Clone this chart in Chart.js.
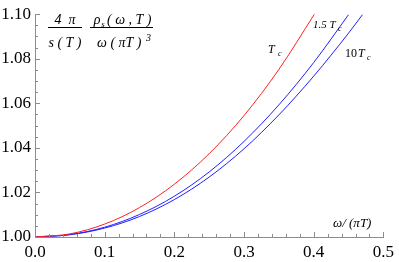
<!DOCTYPE html>
<html>
<head>
<meta charset="utf-8">
<script src="https://cdn.jsdelivr.net/npm/chart.js@4.4.0/dist/chart.umd.min.js"></script>
<style>
  html, body { margin: 0; padding: 0; background: #fff; }
  #wrap { width: 399px; height: 262px; }
</style>
</head>
<body>
<div id="wrap"><canvas id="myChart" width="399" height="262"></canvas></div>
<script>
// omega/(pi T) values
const xVals = [0, 0.05, 0.1, 0.15, 0.2, 0.25, 0.3, 0.35, 0.401];
const xVals15 = [0, 0.05, 0.1, 0.15, 0.2, 0.25, 0.3, 0.35, 0.4, 0.45];
const xVals10 = [0, 0.05, 0.1, 0.15, 0.2, 0.25, 0.3, 0.35, 0.4, 0.45, 0.47];
// curves
const tcVals = [1.0, 1.0014, 1.0058, 1.0132, 1.0237, 1.0374, 1.0545, 1.0752, 1.1000];
const tc15Vals = [1.0, 1.0011, 1.0044, 1.0101, 1.0183, 1.0292, 1.0429, 1.0593, 1.0783, 1.0998];
const tc10Vals = [1.0, 1.0010, 1.0040, 1.0092, 1.0168, 1.0269, 1.0396, 1.0548, 1.0722, 1.0915, 1.0998];
const xTicks = [0, 0.1, 0.2, 0.3, 0.4, 0.5];
const yTicks = [1.0, 1.02, 1.04, 1.06, 1.08, 1.10];

const serif = "'Liberation Serif', 'DejaVu Serif', serif";
const axisColor = '#8c8c8c';

function pts(xs, ys) {
  return xs.map((x, i) => ({ x: x, y: ys[i] }));
}

// tick marks drawn inward, Mathematica style, plus the labels in the plot
const decorations = {
  id: 'decorations',
  afterDraw(chart) {
    const ctx = chart.ctx;
    const xs = chart.scales.x, ys = chart.scales.y;
    const area = chart.chartArea;
    ctx.save();
    ctx.strokeStyle = axisColor;
    ctx.lineWidth = 1;
    ctx.beginPath();
    for (let i = 0; i <= 25; i++) {
      const v = i * 0.02;
      const px = Math.round(xs.getPixelForValue(v)) + 0.5;
      const len = (i % 5 === 0) ? 5 : 3;
      ctx.moveTo(px, area.bottom);
      ctx.lineTo(px, area.bottom - len);
    }
    for (let i = 0; i <= 20; i++) {
      const v = 1 + i * 0.005;
      const py = Math.round(ys.getPixelForValue(v)) + 0.5;
      const len = (i % 4 === 0) ? 5 : 3;
      ctx.moveTo(area.left, py);
      ctx.lineTo(area.left + len, py);
    }
    ctx.stroke();

    ctx.fillStyle = '#000';
    ctx.textBaseline = 'alphabetic';
    // formula
    ctx.font = 'italic 14px ' + serif;
    ctx.textAlign = 'center';
    ctx.fillText('4  \u03c0', 65, 24);
    ctx.fillText('s ( T )', 65, 47);
    ctx.fillText('\u03c1', 97, 24);
    ctx.font = 'italic 9px ' + serif;
    ctx.fillText('s', 103, 27);
    ctx.font = 'italic 14px ' + serif;
    ctx.textAlign = 'left';
    ctx.fillText('( \u03c9 , T )', 107, 24);
    ctx.fillText('\u03c9 ( \u03c0T )', 97, 47);
    ctx.font = 'italic 10px ' + serif;
    ctx.fillText('3', 146, 41);
    ctx.strokeStyle = '#000';
    ctx.beginPath();
    ctx.moveTo(48, 27.5); ctx.lineTo(82, 27.5);
    ctx.moveTo(90, 27.5); ctx.lineTo(153, 27.5);
    ctx.stroke();

    // curve labels
    ctx.font = 'italic 12px ' + serif;
    ctx.fillText('T', 268, 53);
    ctx.font = 'italic 8px ' + serif;
    ctx.fillText('c', 278, 56);
    ctx.font = 'italic 11px ' + serif;
    ctx.fillText('1.5 T', 313, 28);
    ctx.font = 'italic 8px ' + serif;
    ctx.fillText('c', 338, 31);
    ctx.font = '12px ' + serif;
    ctx.fillText('10', 345, 57);
    ctx.font = 'italic 12px ' + serif;
    ctx.fillText('T', 358, 57);
    ctx.font = 'italic 8px ' + serif;
    ctx.fillText('c', 367, 60);

    // axis label
    ctx.font = 'italic 13px ' + serif;
    ctx.fillText('\u03c9/ (\u03c0T)', 333, 227);
    ctx.restore();
  }
};

new Chart(document.getElementById('myChart'), {
  type: 'line',
  data: {
    datasets: [
      { label: 'Tc', data: pts(xVals, tcVals), borderColor: '#ff2020', borderWidth: 1, pointRadius: 0, cubicInterpolationMode: 'monotone', fill: false },
      { label: '1.5 Tc', data: pts(xVals15, tc15Vals), borderColor: '#2020ff', borderWidth: 1, pointRadius: 0, cubicInterpolationMode: 'monotone', fill: false },
      { label: '10 Tc', data: pts(xVals10, tc10Vals), borderColor: '#2020ff', borderWidth: 1, pointRadius: 0, cubicInterpolationMode: 'monotone', fill: false }
    ]
  },
  options: {
    responsive: false,
    animation: false,
    events: [],
    layout: { padding: { top: 10, right: 15, left: 0, bottom: 0 } },
    plugins: { legend: { display: false }, tooltip: { enabled: false } },
    scales: {
      x: {
        type: 'linear', min: 0, max: 0.5,
        afterFit: s => { s.height = 25; },
        afterBuildTicks: s => { s.ticks = xTicks.map(v => ({ value: v })); },
        grid: { display: false, drawTicks: false },
        border: { display: true, color: axisColor, width: 1 },
        ticks: { padding: 5, color: '#000', font: { family: serif, size: 17 }, callback: v => v.toFixed(1), maxRotation: 0 }
      },
      y: {
        type: 'linear', min: 1.0, max: 1.10,
        afterFit: s => { s.width = 35; },
        afterBuildTicks: s => { s.ticks = yTicks.map(v => ({ value: v })); },
        grid: { display: false, drawTicks: false },
        border: { display: true, color: axisColor, width: 1 },
        ticks: { padding: 4, color: '#000', font: { family: serif, size: 17 }, callback: v => v.toFixed(2) }
      }
    }
  },
  plugins: [decorations]
});
</script>
</body>
</html>
